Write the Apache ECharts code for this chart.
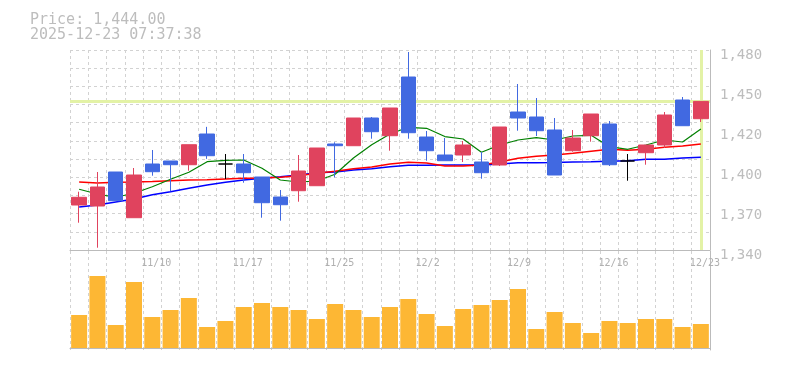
<!DOCTYPE html>
<html>
<head>
<meta charset="utf-8">
<script src="https://cdn.jsdelivr.net/npm/echarts@6/dist/echarts.min.js"></script>
<style>
html,body{margin:0;padding:0;background:#fff;}
#chart{width:785px;height:370px;}
</style>
</head>
<body>
<div id="chart"></div>
<script>
const dates = ['11/4','11/5','11/6','11/7','11/10','11/11','11/12','11/13','11/14','11/17','11/18','11/19','11/20','11/21','11/25','11/26','11/27','11/28','12/1','12/2','12/3','12/4','12/5','12/8','12/9','12/10','12/11','12/12','12/15','12/16','12/17','12/18','12/19','12/22','12/23'];
const openP  = [1371.5,1370.8,1394.6,1362.6,1400.2,1402.3,1399.7,1421.2,1400.2,1400.2,1391.1,1377.1,1381.5,1385.0,1414.2,1413.0,1432.4,1420.0,1461.1,1419.1,1406.5,1406.5,1401.6,1399.5,1436.6,1433.1,1424.0,1409.5,1420.0,1428.2,1402.3,1408.1,1413.5,1445.0,1431.9];
const closeP = [1376.9,1384.1,1374.5,1392.5,1394.8,1399.7,1413.7,1406.0,1400.2,1394.1,1373.1,1371.7,1395.3,1411.4,1413.0,1432.4,1422.8,1439.4,1422.1,1409.5,1402.5,1413.5,1394.1,1426.1,1432.4,1423.5,1392.5,1418.4,1435.2,1399.7,1402.3,1413.5,1434.5,1427.0,1444.0];
const lowP   = [1359.1,1341.6,1374.5,1362.6,1392.0,1381.3,1395.5,1403.8,1389.7,1387.1,1362.6,1360.5,1373.8,1385.0,1390.9,1413.0,1417.9,1409.5,1417.9,1402.5,1402.5,1401.6,1389.9,1398.8,1423.5,1419.8,1392.5,1408.8,1415.8,1398.8,1388.5,1399.7,1411.4,1427.0,1429.6];
const highP  = [1380.8,1394.6,1394.6,1397.4,1410.0,1402.3,1413.7,1426.2,1407.2,1407.2,1391.1,1382.0,1406.5,1411.4,1415.4,1432.4,1433.1,1439.4,1478.6,1423.3,1418.4,1416.3,1408.6,1426.1,1456.2,1446.4,1432.4,1424.0,1435.2,1430.3,1407.2,1413.5,1436.6,1447.1,1444.0];
const maShort = [1382.5,1379.2,1376.9,1379.7,1384.3,1389.5,1394.4,1401.8,1402.8,1403.0,1397.2,1389.0,1387.6,1388.3,1393.0,1404.4,1413.7,1421.2,1425.9,1425.2,1419.4,1417.7,1408.4,1413.5,1417.0,1418.6,1417.0,1419.8,1420.3,1412.3,1410.5,1413.5,1417.0,1415.6,1424.7];
const maMid   = [1387.6,1386.9,1387.4,1387.6,1388.0,1388.5,1389.0,1389.2,1389.7,1390.2,1390.4,1390.9,1392.0,1393.8,1395.2,1396.9,1398.1,1400.2,1401.4,1400.9,1398.8,1398.8,1399.5,1401.6,1404.2,1405.6,1406.5,1407.7,1409.1,1410.5,1409.8,1410.5,1411.9,1412.8,1414.2];
const maLong  = [1370.1,1371.5,1373.6,1375.7,1378.7,1380.8,1383.2,1385.5,1387.4,1389.0,1390.2,1391.3,1392.5,1394.1,1394.6,1396.0,1396.9,1398.3,1399.3,1399.4,1399.5,1399.5,1399.5,1400.2,1401.1,1401.1,1401.2,1401.6,1401.7,1402.1,1402.5,1403.5,1403.6,1404.4,1404.9];
const volume  = [33,72,23,66,31,38,50,21,27,41,45,41,38,29,44,38,31,41,49,34,22,39,43,48,59,19,36,25,15,27,25,29,29,21,24];
const priceTicks = [1340,1368,1396,1424,1452,1480];
const lastPrice = 1444.00;
const stamp = '2025-12-23 07:37:38';

const MONO = 'DejaVu Sans Mono';
const GRIDC = '#d2d2d2';
const AXISC = '#bbbbbb';
const HILITE = '#e3f2a6';

const candleData = dates.map((d, i) => [openP[i], closeP[i], lowP[i], highP[i]]);
const fmtPrice = v => (Math.round(v / 10) * 10).toLocaleString('en-US');

const chart = echarts.init(document.getElementById('chart'), null, {renderer: 'canvas'});
chart.setOption({
  animation: false,
  backgroundColor: '#fff',
  title: {
    text: 'Price: ' + lastPrice.toLocaleString('en-US', {minimumFractionDigits: 2, maximumFractionDigits: 2}) + '\n' + stamp,
    left: 25, top: 8,
    textStyle: {fontFamily: MONO, fontSize: 15, fontWeight: 'normal', color: '#bdbdbd', lineHeight: 15}
  },
  grid: [
    {left: 70, right: 75, top: 50, height: 200},
    {left: 70, right: 75, top: 251, height: 99}
  ],
  xAxis: [
    {
      type: 'category', gridIndex: 0, data: dates, boundaryGap: true,
      axisLine: {show: true, lineStyle: {color: AXISC, width: 1}},
      axisTick: {show: false},
      axisLabel: {
        interval: (idx) => idx >= 4 && (idx - 4) % 5 === 0,
        fontFamily: MONO, fontSize: 10, color: '#b0b0b0', margin: 8,
        align: 'left', padding: [0, 0, 0, -11]
      },
      splitLine: {show: true, interval: 0, lineStyle: {color: GRIDC, type: [3, 3], width: 1}}
    },
    {
      type: 'category', gridIndex: 1, data: dates, boundaryGap: true,
      axisLine: {show: true, lineStyle: {color: AXISC, width: 1}},
      axisTick: {show: false},
      axisLabel: {show: false},
      splitLine: {show: true, interval: 0, lineStyle: {color: GRIDC, type: [3, 3], width: 1}}
    }
  ],
  yAxis: [
    {
      type: 'value', gridIndex: 0, position: 'right', min: 1340, max: 1480, scale: true,
      axisLine: {show: true, lineStyle: {color: AXISC, width: 1}},
      axisTick: {show: false},
      splitLine: {show: false},
      axisLabel: {
        customValues: priceTicks,
        formatter: v => '{p|' + fmtPrice(v) + '}',
        margin: 10,
        rich: {p: {fontFamily: MONO, fontSize: 14, color: '#bdbdbd', padding: [10, 0, 0, 0]}}
      }
    },
    {
      type: 'value', gridIndex: 1, position: 'right', min: -2, max: 97,
      axisLine: {show: true, lineStyle: {color: AXISC, width: 1}},
      axisTick: {show: false}, axisLabel: {show: false}, splitLine: {show: false}
    },
    {
      type: 'value', gridIndex: 0, position: 'left', min: 0, max: 11, interval: 1,
      axisLine: {show: false}, axisTick: {show: false}, axisLabel: {show: false},
      splitLine: {show: true, lineStyle: {color: GRIDC, type: [3, 3], width: 1}}
    }
  ],
  series: [
    {
      name: 'MA long', type: 'line', xAxisIndex: 0, yAxisIndex: 0, data: maLong, z: 2,
      showSymbol: false, symbol: 'none', lineStyle: {color: '#0000ff', width: 1.5}
    },
    {
      name: 'MA mid', type: 'line', xAxisIndex: 0, yAxisIndex: 0, data: maMid, z: 2,
      showSymbol: false, symbol: 'none', lineStyle: {color: '#ff0000', width: 1.5}
    },
    {
      name: 'MA short', type: 'line', xAxisIndex: 0, yAxisIndex: 0, data: maShort, z: 2,
      showSymbol: false, symbol: 'none', lineStyle: {color: '#008000', width: 1.2}
    },
    {
      name: 'Price', type: 'candlestick', xAxisIndex: 0, yAxisIndex: 0, data: candleData, z: 3,
      barWidth: 15,
      itemStyle: {
        color: '#e0435e', color0: '#4169e1',
        borderColor: '#e0435e', borderColor0: '#4169e1', borderColorDoji: '#000000',
        borderWidth: 1
      },
      markLine: {
        z: 1, silent: true, symbol: 'none', animation: false,
        label: {show: false},
        lineStyle: {color: HILITE, width: 3, type: 'solid'},
        emphasis: {disabled: true},
        data: [{yAxis: lastPrice}, {xAxis: dates[dates.length - 1]}]
      }
    },
    {
      name: 'Volume', type: 'bar', xAxisIndex: 1, yAxisIndex: 1, data: volume,
      barWidth: 16, itemStyle: {color: '#fdb734'}
    }
  ]
});
</script>
</body>
</html>
